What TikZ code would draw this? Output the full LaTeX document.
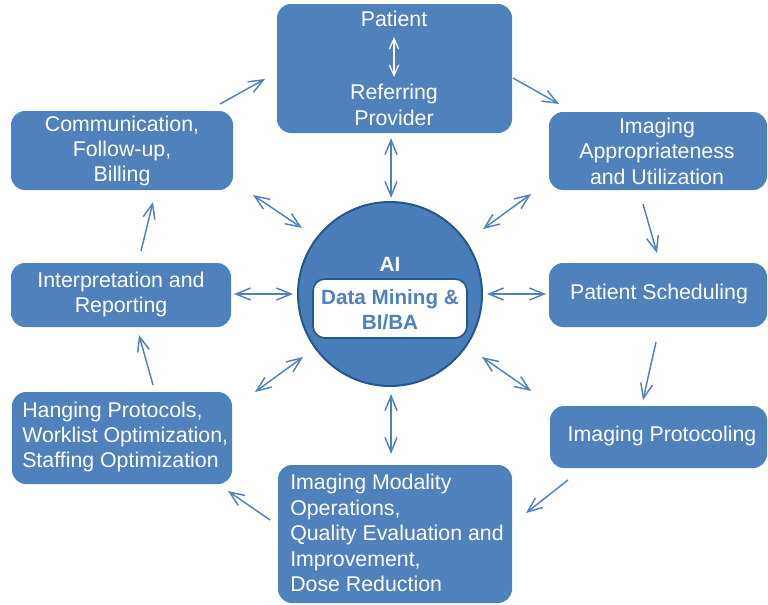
\documentclass[tikz,border=0pt]{standalone}
\usepackage{fontspec}
\setmainfont{Liberation Sans}
\usetikzlibrary{arrows.meta}
\definecolor{boxblue}{HTML}{4F81BD}
\definecolor{circblue}{HTML}{4A7EBB}
\definecolor{edgeblue}{HTML}{24588A}
\begin{document}
\begin{tikzpicture}[x=0.75pt,y=-0.75pt,
  box/.style={fill=boxblue, draw=none, rounded corners=10.5pt, inner sep=0pt},
  txt/.style={text=white, font=\fontsize{16}{19.1}\selectfont, inner sep=0pt},
  flow/.style={draw=boxblue, line width=1.1pt, -{Straight Barb[length=11pt,width=9pt]}},
  dbl/.style={draw=boxblue, line width=1.1pt, {Straight Barb[length=11pt,width=9pt]}-{Straight Barb[length=11pt,width=9pt]}},
  wdbl/.style={draw=white, line width=0.9pt, {Straight Barb[length=8pt,width=7pt]}-{Straight Barb[length=8pt,width=7pt]}}
]
\useasboundingbox (0,0) rectangle (768,604);

% boxes
\node[box, minimum width=176.25pt, minimum height=96.75pt] (pat) at (394.5,68.5) {};
\node[box, minimum width=163.5pt, minimum height=58.5pt] (appr) at (658,151) {};
\node[box, minimum width=166.5pt, minimum height=59.25pt] (comm) at (122,150.5) {};
\node[box, minimum width=165pt, minimum height=48pt] (interp) at (121,295) {};
\node[box, minimum width=163.5pt, minimum height=48pt] (sched) at (658,295) {};
\node[box, minimum width=165pt, minimum height=69pt] (hang) at (122,438) {};
\node[box, minimum width=162.75pt, minimum height=46.5pt] (proto) at (658.5,437) {};
\node[box, minimum width=175.5pt, minimum height=103.5pt] (modal) at (395,534) {};

% texts
\node[txt] (patt) at (394,19) {Patient};
\node[txt, align=center] (reft) at (394,105) {Referring\\Provider};
\coordinate (pa1) at (394,37);
\coordinate (pa2) at (394,77);
\draw[wdbl] (pa1) -- (pa2);
\node[txt, align=center] (apprt) at (657,151) {Imaging\\Appropriateness\\and Utilization};
\node[txt, align=center] (commt) at (122,151) {Communication,\\Follow-up,\\Billing};
\node[txt, align=center] (interpt) at (121,294.5) {Interpretation and\\Reporting};
\node[txt] (schedt) at (659,294) {Patient Scheduling};
\node[txt, align=left, anchor=west] (hangt) at (22,437) {Hanging Protocols,\\Worklist Optimization,\\Staffing Optimization};
\node[txt] (protot) at (662,436) {Imaging Protocoling};
\node[txt, align=left, anchor=west] (modalt) at (290,533) {Imaging Modality\\Operations,\\Quality Evaluation and\\Improvement,\\Dose Reduction};

% central circle
\node[circle, fill=circblue, draw=edgeblue, line width=1.5pt, minimum size=138pt, inner sep=0pt] (ai) at (390,294) {};
\node[text=white, font=\fontsize{15.5}{19}\selectfont\bfseries, inner sep=0pt] (ait) at (390,264) {AI};
\node[fill=white, draw=edgeblue, line width=1.2pt, rounded corners=9pt, minimum width=115.5pt, minimum height=44.25pt, inner sep=0pt] (dm) at (390,308.5) {};
\node[text=boxblue, font=\fontsize{15.5}{19}\selectfont\bfseries, align=center, inner sep=0pt] (dmt) at (390,309.5) {Data Mining \&\\BI/BA};

% cycle arrows
\coordinate (c1a) at (220,104); \coordinate (c1b) at (265,79);
\coordinate (c2a) at (513,78);  \coordinate (c2b) at (559,104);
\coordinate (c3a) at (643,204); \coordinate (c3b) at (657,253);
\coordinate (c4a) at (656,342); \coordinate (c4b) at (643,400);
\coordinate (c5a) at (568,480); \coordinate (c5b) at (526,513);
\coordinate (c6a) at (270,520); \coordinate (c6b) at (228,491);
\coordinate (c7a) at (153,385); \coordinate (c7b) at (139,335);
\coordinate (c8a) at (141,251); \coordinate (c8b) at (153,202);
\draw[flow] (c1a) -- (c1b);
\draw[flow] (c2a) -- (c2b);
\draw[flow] (c3a) -- (c3b);
\draw[flow] (c4a) -- (c4b);
\draw[flow] (c5a) -- (c5b);
\draw[flow] (c6a) -- (c6b);
\draw[flow] (c7a) -- (c7b);
\draw[flow] (c8a) -- (c8b);

% double arrows
\coordinate (dua) at (391,138); \coordinate (dub) at (391,198);
\coordinate (dda) at (391,394); \coordinate (ddb) at (391,454);
\coordinate (dla) at (234,294); \coordinate (dlb) at (293,294);
\coordinate (dra) at (487,294); \coordinate (drb) at (546,294);
\coordinate (dula) at (253,195); \coordinate (dulb) at (302,228);
\coordinate (dura) at (483,229); \coordinate (durb) at (531,194);
\coordinate (dlla) at (255,392); \coordinate (dllb) at (303,357);
\coordinate (dlra) at (482,357); \coordinate (dlrb) at (531,391);
\draw[dbl] (dua) -- (dub);
\draw[dbl] (dda) -- (ddb);
\draw[dbl] (dla) -- (dlb);
\draw[dbl] (dra) -- (drb);
\draw[dbl] (dula) -- (dulb);
\draw[dbl] (dura) -- (durb);
\draw[dbl] (dlla) -- (dllb);
\draw[dbl] (dlra) -- (dlrb);
\end{tikzpicture}
\end{document}
